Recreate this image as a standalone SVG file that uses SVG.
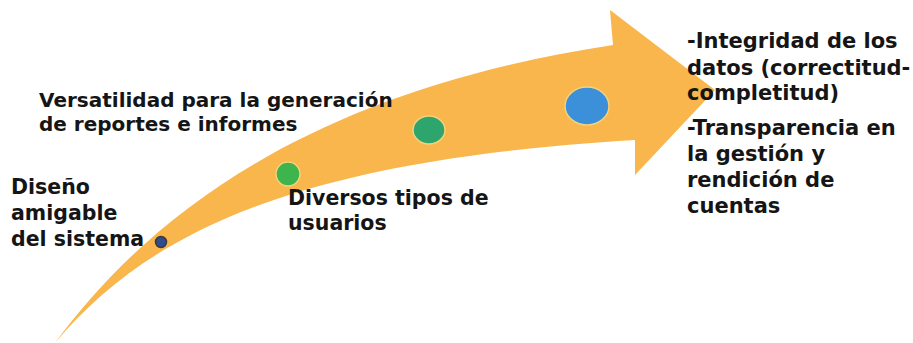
<svg xmlns="http://www.w3.org/2000/svg" width="913" height="343" viewBox="0 0 913 343">
<style>
.t{font-family:"DejaVu Sans",Verdana,sans-serif;font-weight:bold;fill:#151515;}
.l{font-size:20.5px;}
.v{font-size:20px;}
.r{font-size:21px;}
</style>
<rect width="913" height="343" fill="#ffffff"/>
<g id="arrow">
<path d="M55,343 C160,200 330,88 613,45 L610,10 L715,90 L635,175 L635,140 C300,160 150,230 55,343 Z" fill="#F8B64C"/>
</g>
<g id="node-diseno">
<circle cx="161" cy="242" r="5.5" fill="#2F4C8E" stroke="#3a3a3a" stroke-width="1.5"/>
<text class="t l" x="11" y="194">Diseño</text>
<text class="t l" x="11" y="220">amigable</text>
<text class="t l" x="11" y="246">del sistema</text>
</g>
<g id="node-diversos">
<circle cx="288" cy="174" r="12" fill="#3DB44C" stroke="#F3D27A" stroke-width="1.5"/>
<text class="t l" x="288" y="205">Diversos tipos de</text>
<text class="t l" x="288" y="230">usuarios</text>
</g>
<g id="node-versatilidad">
<ellipse cx="429" cy="130" rx="16" ry="14" fill="#2DA56C" stroke="#F3D27A" stroke-width="1.5"/>
<text class="t v" x="39" y="107">Versatilidad para la generación</text>
<text class="t v" x="39" y="131">de reportes e informes</text>
</g>
<g id="node-integridad">
<ellipse cx="587" cy="106" rx="22" ry="19" fill="#3C90DA" stroke="#F3D27A" stroke-width="1.5"/>
<text class="t r" x="687" y="48">-Integridad de los</text>
<text class="t r" x="687" y="75">datos (correctitud-</text>
<text class="t r" x="687" y="100">completitud)</text>
<text class="t r" x="687" y="135">-Transparencia en</text>
<text class="t r" x="687" y="161">la gestión y</text>
<text class="t r" x="687" y="187">rendición de</text>
<text class="t r" x="687" y="213">cuentas</text>
</g>
<g id="connectors"></g>
</svg>
